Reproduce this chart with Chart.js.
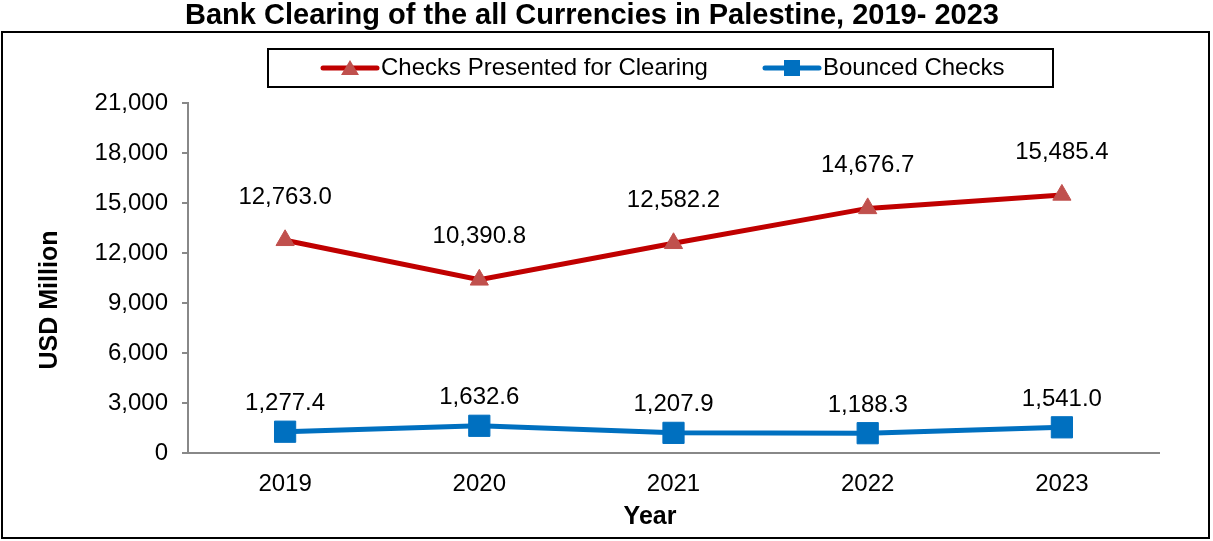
<!DOCTYPE html>
<html><head><meta charset="utf-8">
<script src="https://cdn.jsdelivr.net/npm/chart.js@4"></script>
<style>html,body{margin:0;padding:0;background:#fff}#w{width:1213px;height:541px}</style>
</head><body><div id="w"><canvas id="c" width="1213" height="541"></canvas></div>
<script>
const categories = ['2019','2020','2021','2022','2023'];
const checksPresented = [12763.0, 10390.8, 12582.2, 14676.7, 15485.4];
const bouncedChecks = [1277.4, 1632.6, 1207.9, 1188.3, 1541.0];
const yTicks = [0,3000,6000,9000,12000,15000,18000,21000];
const titleText = 'Bank Clearing of the all Currencies in Palestine, 2019- 2023';
const seriesNames = ['Checks Presented for Clearing','Bounced Checks'];
const FONT = '"Liberation Sans", Arial, sans-serif';

const fmt = v => v.toLocaleString('en-US',{minimumFractionDigits:1,maximumFractionDigits:1});

const deco = {
  id:'deco',
  afterDraw(chart){
    const ctx = chart.ctx;
    ctx.save();
    ctx.strokeStyle='#000'; ctx.lineWidth=2;
    ctx.strokeRect(2,32,1207,506);
    ctx.fillStyle='#000'; ctx.font='bold 29px '+FONT;
    ctx.textAlign='center'; ctx.textBaseline='middle';
    ctx.fillText(titleText,592,16);
    ctx.font='bold 25px '+FONT;
    ctx.fillText('Year',650,517);
    ctx.save(); ctx.translate(50,300); ctx.rotate(-Math.PI/2);
    ctx.fillText('USD Million',0,0); ctx.restore();
    ctx.lineWidth=2; ctx.strokeStyle='#000';
    ctx.strokeRect(268,49,785,38);
    const items=[{x:323,ds:chart.data.datasets[0]},{x:765,ds:chart.data.datasets[1]}];
    items.forEach((it,i)=>{
      const y=68;
      ctx.strokeStyle=it.ds.borderColor; ctx.lineWidth=5; ctx.lineCap='round';
      ctx.beginPath(); ctx.moveTo(it.x,y); ctx.lineTo(it.x+54,y); ctx.stroke();
      ctx.fillStyle=it.ds.pointBackgroundColor;
      const cx=it.x+27;
      if(i===0){ctx.beginPath();ctx.moveTo(cx,y-8);ctx.lineTo(cx+9,y+7);ctx.lineTo(cx-9,y+7);ctx.closePath();ctx.fill();}
      else{ctx.fillRect(cx-8,y-8,16,16);}
      ctx.fillStyle='#000'; ctx.font='24px '+FONT; ctx.textAlign='left'; ctx.textBaseline='middle';
      ctx.fillText(seriesNames[i],it.x+58,y);
    });
    ctx.font='24px '+FONT; ctx.textAlign='center'; ctx.textBaseline='middle'; ctx.fillStyle='#000';
    const offs=[43,28];
    chart.data.datasets.forEach((ds,di)=>{
      chart.getDatasetMeta(di).data.forEach((pt,i)=>{
        ctx.fillText(fmt(ds.data[i]),pt.x,pt.y-offs[di]);
      });
    });
    ctx.restore();
  }
};

new Chart(document.getElementById('c'),{
  type:'line',
  data:{labels:categories,datasets:[
    {label:seriesNames[0],data:checksPresented,borderColor:'#C00000',borderWidth:5,
     pointStyle:'triangle',pointRadius:10.5,pointBackgroundColor:'#C0504D',pointBorderColor:'#C0504D',pointBorderWidth:1,tension:0},
    {label:seriesNames[1],data:bouncedChecks,borderColor:'#0070C0',borderWidth:5,
     pointStyle:'rect',pointRadius:15,pointBackgroundColor:'#0070C0',pointBorderColor:'#0070C0',pointBorderWidth:1,tension:0}
  ]},
  options:{
    responsive:false,animation:false,
    layout:{padding:{left:0,right:54,top:103,bottom:0}},
    plugins:{legend:{display:false},title:{display:false},tooltip:{enabled:false}},
    scales:{
      x:{offset:true,
        grid:{display:true,drawOnChartArea:false,drawTicks:false,offset:true},
        border:{color:'#888',width:2},
        ticks:{color:'#000',font:{family:FONT,size:24},padding:17},
        afterFit(s){s.height=88;}
      },
      y:{min:0,max:21000,
        afterBuildTicks(s){s.ticks=yTicks.map(v=>({value:v}));},
        grid:{drawOnChartArea:false,drawTicks:true,tickLength:6,color:'#888',lineWidth:2},
        border:{color:'#888',width:2},
        ticks:{color:'#000',font:{family:FONT,size:24},padding:14,callback:v=>v.toLocaleString('en-US')},
        afterFit(s){s.width=188;}
      }
    }
  },
  plugins:[deco]
});
</script></body></html>
